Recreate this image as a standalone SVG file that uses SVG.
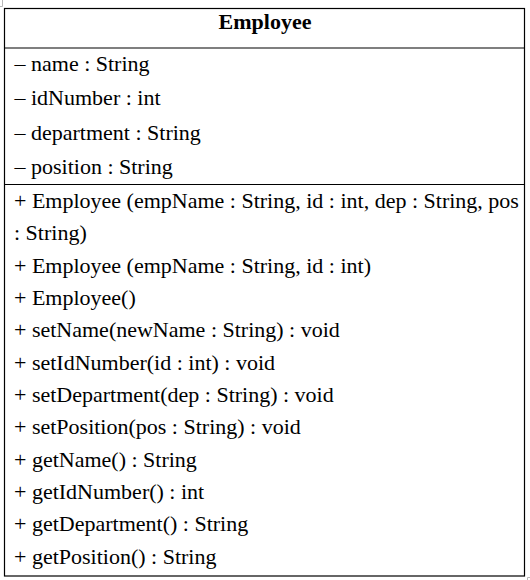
<svg xmlns="http://www.w3.org/2000/svg" width="530" height="580" viewBox="0 0 530 580">
<style>
text{font-family:'Liberation Serif','Times New Roman',Tinos,'DejaVu Serif',serif;font-size:22px;fill:#000}
.b{font-weight:bold;text-anchor:middle}
.ln{stroke:#000;stroke-width:1.2;fill:none}
.mk{stroke:#b8b8b8;stroke-width:1;fill:none}
</style>
<rect width="530" height="580" fill="#fff"/>
<g id="marks">
<path class="mk" d="M2.5 0 V6.5 H0"/>
<path class="mk" d="M527.5 580 V577.5 H530"/>
</g>
<g id="Employee">
<rect class="ln" x="4.5" y="8.5" width="520" height="567.5"/>
<line class="ln" x1="4.5" y1="48" x2="524.5" y2="48"/>
<line class="ln" x1="4.5" y1="184.5" x2="524.5" y2="184.5"/>
<text class="b" x="265" y="29">Employee</text>
<g>
<text x="14.5" y="71.3">– name : String</text>
<text x="14.5" y="105.3">– idNumber : int</text>
<text x="14.5" y="139.6">– department : String</text>
<text x="14.5" y="173.8">– position : String</text>
<text x="14" y="207.8">+ Employee (empName : String, id : int, dep : String, pos</text>
<text x="14" y="240.2">: String)</text>
<text x="14" y="272.5">+ Employee (empName : String, id : int)</text>
<text x="14" y="304.9">+ Employee()</text>
<text x="14" y="337.2">+ setName(newName : String) : void</text>
<text x="14" y="369.6">+ setIdNumber(id : int) : void</text>
<text x="14" y="402">+ setDepartment(dep : String) : void</text>
<text x="14" y="434.3">+ setPosition(pos : String) : void</text>
<text x="14" y="466.7">+ getName() : String</text>
<text x="14" y="499">+ getIdNumber() : int</text>
<text x="14" y="531.4">+ getDepartment() : String</text>
<text x="14" y="563.8">+ getPosition() : String</text>
</g>
</g>
<g id="connectors"/>
</svg>
